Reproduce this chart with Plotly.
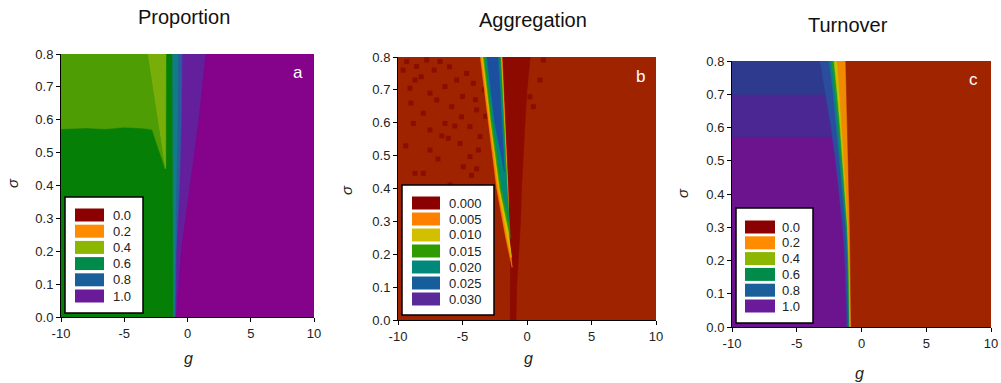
import plotly.graph_objects as go

W, H = 1001, 383
FONT = "Liberation Sans, Arial, sans-serif"

# ---------------- data ----------------
G_TICKS = [-10, -5, 0, 5, 10]
G_TICKTEXT = ["-10", "-5", "0", "5", "10"]
S_TICKS = [0.0, 0.1, 0.2, 0.3, 0.4, 0.5, 0.6, 0.7, 0.8]

TITLES = ["Proportion", "Aggregation", "Turnover"]
LETTERS = ["a", "b", "c"]

LEG_A_LABELS = ["0.0", "0.2", "0.4", "0.6", "0.8", "1.0"]
LEG_A_COLORS = ["#8B0000", "#FF8C00", "#8DB600", "#008B4A", "#1A5E9A", "#6A1B9A"]
LEG_B_LABELS = ["0.000", "0.005", "0.010", "0.015", "0.020", "0.025", "0.030"]
LEG_B_COLORS = ["#8B0000", "#FF8000", "#D2C000", "#2E9B00", "#00897B", "#155E9B", "#5B2A9A"]
LEG_C_LABELS = ["0.0", "0.2", "0.4", "0.6", "0.8", "1.0"]
LEG_C_COLORS = ["#8B0000", "#FF8C00", "#8DB600", "#008B4A", "#1A5E9A", "#6A1B9A"]

# Panel a: boundaries (g) at sigma levels, regions to the right of each boundary
A_SIG = [0.0, 0.2, 0.4, 0.6, 0.8]
A_TEAL = [-1.12, -1.13, -1.15, -1.17, -1.18]
A_BLUE = [-1.0, -0.95, -0.85, -0.75, -0.7]
A_INDIGO = [-0.93, -0.85, -0.6, -0.45, -0.4]
A_PURPLE = [-0.88, -0.5, 0.2, 0.9, 1.45]
A_OLIVE_G = [-10, -3.15, -1.75, -2.8, -3.5, -5.0, -6.5, -8.0, -10]
A_OLIVE_S = [0.8, 0.8, 0.45, 0.57, 0.574, 0.577, 0.572, 0.575, 0.572]
A_WEDGE_G = [-3.15, -1.70, -1.72, -1.76]
A_WEDGE_S = [0.8, 0.8, 0.46, 0.45]

# Panel b: dark strip and nested wedge layers (tip first)
B_DARK_SIG = [0.0, 0.1, 0.2, 0.3, 0.4, 0.5, 0.6, 0.7, 0.8]
B_DARK_L = [-1.3, -1.3, -1.28, -1.4, -1.5, -1.65, -1.75, -1.85, -1.95]
B_DARK_R = [-0.85, -0.8, -0.65, -0.5, -0.42, -0.3, -0.15, 0.0, 0.25]

B_ORANGE_SIG = [0.16, 0.25, 0.4, 0.6, 0.8]
B_ORANGE_L = [-1.15, -1.65, -2.35, -3.0, -3.62]
B_ORANGE_R = [-1.15, -1.38, -1.47, -1.72, -1.93]
B_YELLOW_SIG = [0.19, 0.25, 0.4, 0.6, 0.8]
B_YELLOW_L = [-1.2, -1.52, -2.22, -2.88, -3.5]
B_YELLOW_R = [-1.2, -1.4, -1.5, -1.76, -1.98]
B_GREEN_SIG = [0.25, 0.4, 0.6, 0.8]
B_GREEN_L = [-1.3, -2.1, -2.78, -3.38]
B_GREEN_R = [-1.3, -1.53, -1.8, -2.03]
B_TEAL_SIG = [0.3, 0.4, 0.6, 0.8]
B_TEAL_L = [-1.4, -1.95, -2.66, -3.25]
B_TEAL_R = [-1.4, -1.56, -1.85, -2.1]
B_BLUE_SIG = [0.45, 0.6, 0.8]
B_BLUE_L = [-1.75, -2.5, -3.1]
B_BLUE_R = [-1.75, -1.95, -2.25]

B_SPECK_G = [-9.33, -8.55, -7.78, -6.74, -8.68, -9.07, -7.52, -7.0, -6.36, -5.45,
             -4.68, -4.16, -5.84, -8.04, -8.81, -7.52, -6.36, -5.07, -4.42, -3.9,
             -6.1, -5.19, -4.42, -3.64, -3.77, -7.52, -8.68, -8.04, -4.94, -5.97,
             -3.64, -4.42, -3.77, -4.81, 1.01, 0.49, 1.27, 0.23,
             -9.6, -8.2, -6.0, -5.0, -4.0, -9.0, -7.2, -6.6, -5.6, -4.3,
             -3.9, -3.3, -9.4, -6.9, -3.5, -3.2]
B_SPECK_S = [0.786, 0.771, 0.791, 0.786, 0.730, 0.705, 0.690, 0.669, 0.710, 0.730,
             0.750, 0.720, 0.649, 0.629, 0.598, 0.578, 0.598, 0.618, 0.588, 0.639,
             0.553, 0.537, 0.497, 0.558, 0.517, 0.517, 0.446, 0.446, 0.466, 0.411,
             0.406, 0.365, 0.314, 0.264, 0.730, 0.649, 0.791, 0.679,
             0.76, 0.74, 0.77, 0.68, 0.67, 0.66, 0.76, 0.56, 0.59, 0.44,
             0.46, 0.70, 0.53, 0.49, 0.36, 0.62]

# Panel c: background bands in sigma, boundaries of transition band
C_BAND_LO = [0.0, 0.57, 0.70]
C_BAND_COL = ["#6C138E", "#4A2792", "#2E3A8E"]
C_SIG = [0.0, 0.1, 0.2, 0.3, 0.4, 0.5, 0.6, 0.7, 0.8]
C_BLUE = [-1.12, -1.18, -1.28, -1.45, -1.7, -2.0, -2.35, -2.75, -3.2]
C_TEAL = [-1.0, -1.04, -1.1, -1.22, -1.45, -1.68, -1.92, -2.18, -2.5]
C_GREEN = [-0.95, -0.98, -1.04, -1.15, -1.35, -1.55, -1.78, -2.02, -2.3]
C_YELLOW = [-0.91, -0.94, -0.99, -1.09, -1.26, -1.44, -1.65, -1.87, -2.12]
C_ORANGE = [-0.87, -0.9, -0.94, -1.02, -1.18, -1.33, -1.5, -1.68, -1.88]
C_RED = [-0.8, -0.82, -0.85, -0.9, -0.97, -1.03, -1.1, -1.16, -1.22]

# ---------------- helpers ----------------
fig = go.Figure()


def poly(xs, ys, color, ax):
    fig.add_trace(go.Scatter(x=xs, y=ys, fill="toself", fillcolor=color, mode="lines",
                             line=dict(width=0.5, color=color), hoverinfo="skip",
                             showlegend=False, xaxis="x" + ax, yaxis="y" + ax))


def to_right(bound, sig, color, ax):
    poly(list(bound) + [10, 10], list(sig) + [sig[-1], sig[0]], color, ax)


def wedge(L, R, sig, color, ax):
    poly(list(L) + list(R)[::-1], list(sig) + list(sig)[::-1], color, ax)


def rect(g0, g1, s0, s1, color, ax):
    poly([g0, g1, g1, g0], [s0, s0, s1, s1], color, ax)


# ---------------- panel a ----------------
rect(-10, 10, 0, 0.8, "#057F05", "")
poly(A_OLIVE_G, A_OLIVE_S, "#4E9D05", "")
poly(A_WEDGE_G, A_WEDGE_S, "#79AE0A", "")
to_right(A_TEAL, A_SIG, "#127C86", "")
to_right(A_BLUE, A_SIG, "#2A5AA0", "")
to_right(A_INDIGO, A_SIG, "#64209C", "")
to_right(A_PURPLE, A_SIG, "#84038A", "")

# ---------------- panel b ----------------
rect(-10, 10, 0, 0.8, "#A02300", "2")
fig.add_trace(go.Scatter(x=B_SPECK_G, y=B_SPECK_S, mode="markers",
                         marker=dict(symbol="square", size=5, color="#8A0E00", line=dict(width=0)),
                         hoverinfo="skip", showlegend=False, xaxis="x2", yaxis="y2"))
wedge(B_DARK_L, B_DARK_R, B_DARK_SIG, "#8C0A00", "2")
wedge(B_ORANGE_L, B_ORANGE_R, B_ORANGE_SIG, "#FF8000", "2")
wedge(B_YELLOW_L, B_YELLOW_R, B_YELLOW_SIG, "#D2C000", "2")
wedge(B_GREEN_L, B_GREEN_R, B_GREEN_SIG, "#2E9B00", "2")
wedge(B_TEAL_L, B_TEAL_R, B_TEAL_SIG, "#00897B", "2")
wedge(B_BLUE_L, B_BLUE_R, B_BLUE_SIG, "#1C4FA0", "2")

# ---------------- panel c ----------------
for lo, col in zip(C_BAND_LO, C_BAND_COL):
    rect(-10, 10, lo, 0.8, col, "3")
to_right(C_BLUE, C_SIG, "#2A4D9E", "3")
to_right(C_TEAL, C_SIG, "#0B7F86", "3")
to_right(C_GREEN, C_SIG, "#1A9A2A", "3")
to_right(C_YELLOW, C_SIG, "#C8C000", "3")
to_right(C_ORANGE, C_SIG, "#F08A00", "3")
to_right(C_RED, C_SIG, "#A02400", "3")

# ---------------- layout ----------------
def PX(x):
    return x / W


def PY(y):
    return 1 - y / H


PANELS = [  # plot area in pixels: left, right, top, bottom
    (61, 314, 54, 317),
    (398, 656, 57, 320),
    (732, 991, 61, 327),
]

axfont = dict(family=FONT, size=13, color="#222222")
layout = dict(width=W, height=H, margin=dict(l=0, r=0, t=0, b=0, pad=0, autoexpand=False),
              paper_bgcolor="white", plot_bgcolor="white", showlegend=False)
for i, (l, r, t, b) in enumerate(PANELS):
    sfx = "" if i == 0 else str(i + 1)
    layout["xaxis" + sfx] = dict(domain=[PX(l), PX(r)], range=[-10, 10], anchor="y" + sfx,
                                 tickvals=G_TICKS, ticktext=G_TICKTEXT, ticks="outside",
                                 ticklen=4, tickcolor="black", showline=True, linecolor="black",
                                 linewidth=1, showgrid=False, zeroline=False, tickfont=axfont,
                                 automargin=False, fixedrange=True)
    layout["yaxis" + sfx] = dict(domain=[PY(b), PY(t)], range=[0, 0.8], anchor="x" + sfx,
                                 tickvals=S_TICKS, tickformat=".1f", ticks="outside",
                                 ticklen=4, tickcolor="black", showline=True, linecolor="black",
                                 linewidth=1, showgrid=False, zeroline=False, tickfont=axfont,
                                 automargin=False, fixedrange=True)
fig.update_layout(**layout)

ann = []
shapes = []
TITLE_POS = [(184, 17), (533, 20), (848, 25)]
LETTER_POS = [(298, 72), (640, 76), (973, 80)]
SIGMA_POS = [(12, 183), (346, 190), (682, 193)]
G_POS = [(188, 358), (528, 358), (859, 373)]
for i in range(3):
    ann.append(dict(text=TITLES[i], x=PX(TITLE_POS[i][0]), y=PY(TITLE_POS[i][1]), xref="paper",
                    yref="paper", showarrow=False, xanchor="center", yanchor="middle",
                    font=dict(family=FONT, size=20, color="#111111")))
    ann.append(dict(text=LETTERS[i], x=PX(LETTER_POS[i][0]), y=PY(LETTER_POS[i][1]), xref="paper",
                    yref="paper", showarrow=False, xanchor="center", yanchor="middle",
                    font=dict(family=FONT, size=17, color="white")))
    ann.append(dict(text="<i>σ</i>", x=PX(SIGMA_POS[i][0]), y=PY(SIGMA_POS[i][1]), xref="paper",
                    yref="paper", showarrow=False, xanchor="center", yanchor="middle",
                    textangle=-90, font=dict(family=FONT, size=15, color="#222222")))
    ann.append(dict(text="<i>g</i>", x=PX(G_POS[i][0]), y=PY(G_POS[i][1]), xref="paper",
                    yref="paper", showarrow=False, xanchor="center", yanchor="middle",
                    font=dict(family=FONT, size=16, color="#222222")))

LEGENDS = [
    # box (l, t, r, b), swatch x0, x1, first row center, step, label x
    ((65, 197, 143, 313), 75, 104, 215, 16.2, 111, LEG_A_LABELS, LEG_A_COLORS),
    ((402, 185, 494, 315), 412, 440, 203, 16.0, 447, LEG_B_LABELS, LEG_B_COLORS),
    ((736, 208, 813, 323), 745, 775, 227, 15.8, 780, LEG_C_LABELS, LEG_C_COLORS),
]
for (bl, bt, br, bb), sx0, sx1, r0, step, lx, labels, colors in LEGENDS:
    shapes.append(dict(type="rect", xref="paper", yref="paper", x0=PX(bl), x1=PX(br),
                       y0=PY(bb), y1=PY(bt), fillcolor="white",
                       line=dict(color="black", width=1.5)))
    for k, (lab, col) in enumerate(zip(labels, colors)):
        cy = r0 + k * step
        shapes.append(dict(type="rect", xref="paper", yref="paper", x0=PX(sx0), x1=PX(sx1),
                           y0=PY(cy + 6.5), y1=PY(cy - 6.5), fillcolor=col, line=dict(width=0)))
        ann.append(dict(text=lab, x=PX(lx), y=PY(cy), xref="paper", yref="paper",
                        showarrow=False, xanchor="left", yanchor="middle",
                        font=dict(family=FONT, size=13, color="#222222")))

fig.update_layout(annotations=ann, shapes=shapes)
fig.write_html("out.html", config={"displayModeBar": False},
               post_script="document.body.style.margin='0px';document.body.style.overflow='hidden';")
